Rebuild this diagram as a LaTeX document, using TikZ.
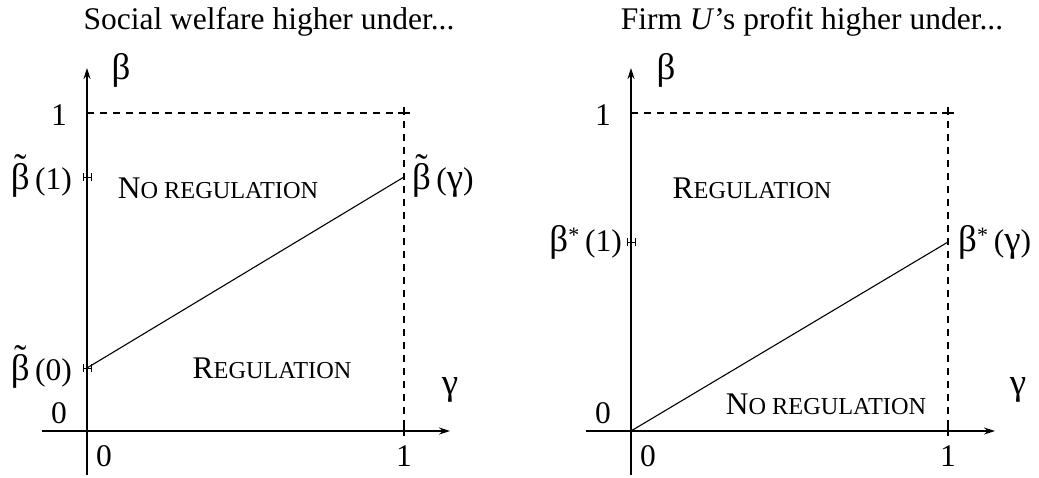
\documentclass[tikz,border=0pt]{standalone}
\usepackage{fontspec}
\setmainfont{Liberation Serif}
\usetikzlibrary{arrows.meta}
\newcommand{\smallsc}{\fontsize{24.3}{26}\selectfont}
\newcommand{\gk}[1]{{\fontsize{37}{40}\selectfont #1}}
\newcommand{\btil}{{\fontsize{37}{40}\selectfont\ooalign{β\cr\hidewidth\raisebox{0.27em}{\char"02DC}\hidewidth\cr}}}
\tikzset{
  x=1pt,y=-1pt,
  lbl/.style={font=\fontsize{31.5}{34}\selectfont, inner sep=0pt},
  axis/.style={line width=1.1pt, -{Stealth[length=11pt,width=7pt]}},
  dsh/.style={line width=1.1pt, dash pattern=on 7pt off 6pt},
  curve/.style={line width=1.1pt},
  tk/.style={line width=1.1pt},
  hk/.style={line width=1pt},
}
\begin{document}
\begin{tikzpicture}
\useasboundingbox (0,0) rectangle (1039,477);
% ---------- left panel ----------
\coordinate (Lo) at (87,431);
\coordinate (Lxs) at (42,431);
\coordinate (Lxe) at (450,431);
\coordinate (Lys) at (87,475);
\coordinate (Lye) at (87,68);
\coordinate (L1y) at (87,113);
\coordinate (L1x) at (404,431);
\coordinate (L11) at (404,113);
\coordinate (Lb0) at (87,368);
\coordinate (Lb1) at (404,177);
\draw[axis] (Lxs) -- (Lxe);
\draw[axis] (Lys) -- (Lye);
\draw[dsh] (L1y) -- (L11) -- (L1x);
\draw[tk] (L1y) -- ([xshift=5pt]L1y);
\draw[tk] ([yshift=-5pt]L1x) -- ([yshift=5pt]L1x);
\draw[tk] ([xshift=-6pt]L11) -- ([xshift=6pt]L11);
\draw[tk] ([yshift=6pt]L11) -- (L11);
\draw[curve] (Lb0) -- (Lb1);
\foreach \yy/\nm in {368/Lh0, 177/Lh1}{
  \coordinate (\nm a) at (83,\yy); \coordinate (\nm b) at (91,\yy);
  \draw[hk] (\nm a) -- (\nm b);
  \draw[hk] ([yshift=-4pt]\nm a) -- ([yshift=4pt]\nm a);
  \draw[hk] ([yshift=-4pt]\nm b) -- ([yshift=4pt]\nm b);
}
\node[lbl] (Ltitle) at (269,22) {Social welfare higher under...};
\node[lbl] (Lbeta) at (121,70) {\gk{β}};
\node[lbl] (Lgam) at (450,390) {\gk{γ}};
\node[lbl, anchor=east] (Lone) at (67,115) {1};
\node[lbl, anchor=east] (Lzero) at (67,413) {0};
\node[lbl] (Lxzero) at (104,456) {0};
\node[lbl] (Lxone) at (404,456) {1};
\node[lbl, anchor=east] (Lbt1) at (72,180) {\btil\,(1)};
\node[lbl, anchor=east] (Lbt0) at (72,371) {\btil\,(0)};
\node[lbl, anchor=west] (Lbtg) at (412,180) {\btil\,(\gk{γ})};
\node[lbl] (Lnoreg) at (218,188) {N\smallsc O REGULATION};
\node[lbl] (Lreg) at (272,368) {R\smallsc EGULATION};
% ---------- right panel ----------
\coordinate (Ro) at (631,431);
\coordinate (Rxs) at (586,431);
\coordinate (Rxe) at (995,431);
\coordinate (Rys) at (631,475);
\coordinate (Rye) at (631,68);
\coordinate (R1y) at (631,113);
\coordinate (R1x) at (948,431);
\coordinate (R11) at (948,113);
\coordinate (Rb1) at (948,242);
\draw[axis] (Rxs) -- (Rxe);
\draw[axis] (Rys) -- (Rye);
\draw[dsh] (R1y) -- (R11) -- (R1x);
\draw[tk] (R1y) -- ([xshift=5pt]R1y);
\draw[tk] ([yshift=-5pt]R1x) -- ([yshift=5pt]R1x);
\draw[tk] ([xshift=-6pt]R11) -- ([xshift=6pt]R11);
\draw[tk] ([yshift=6pt]R11) -- (R11);
\draw[curve] (Ro) -- (Rb1);
\coordinate (Rh1a) at (627,242); \coordinate (Rh1b) at (635,242);
\draw[hk] (Rh1a) -- (Rh1b);
\draw[hk] ([yshift=-4pt]Rh1a) -- ([yshift=4pt]Rh1a);
\draw[hk] ([yshift=-4pt]Rh1b) -- ([yshift=4pt]Rh1b);
\node[lbl] (Rtitle) at (812,22) {Firm \textit{U}’s profit higher under...};
\node[lbl] (Rbeta) at (666,70) {\gk{β}};
\node[lbl] (Rgam) at (1018,390) {\gk{γ}};
\node[lbl, anchor=east] (Rone) at (611,115) {1};
\node[lbl, anchor=east] (Rzero) at (611,413) {0};
\node[lbl] (Rxzero) at (648,456) {0};
\node[lbl] (Rxone) at (948,456) {1};
\node[lbl, anchor=east] (Rbs1) at (622,242) {\gk{β}\textsuperscript{*}\,(1)};
\node[lbl, anchor=west] (Rbsg) at (958,242) {\gk{β}\textsuperscript{*}\,(\gk{γ})};
\node[lbl] (Rreg) at (752,188) {R\smallsc EGULATION};
\node[lbl] (Rnoreg) at (826,404) {N\smallsc O REGULATION};
\end{tikzpicture}
\end{document}
